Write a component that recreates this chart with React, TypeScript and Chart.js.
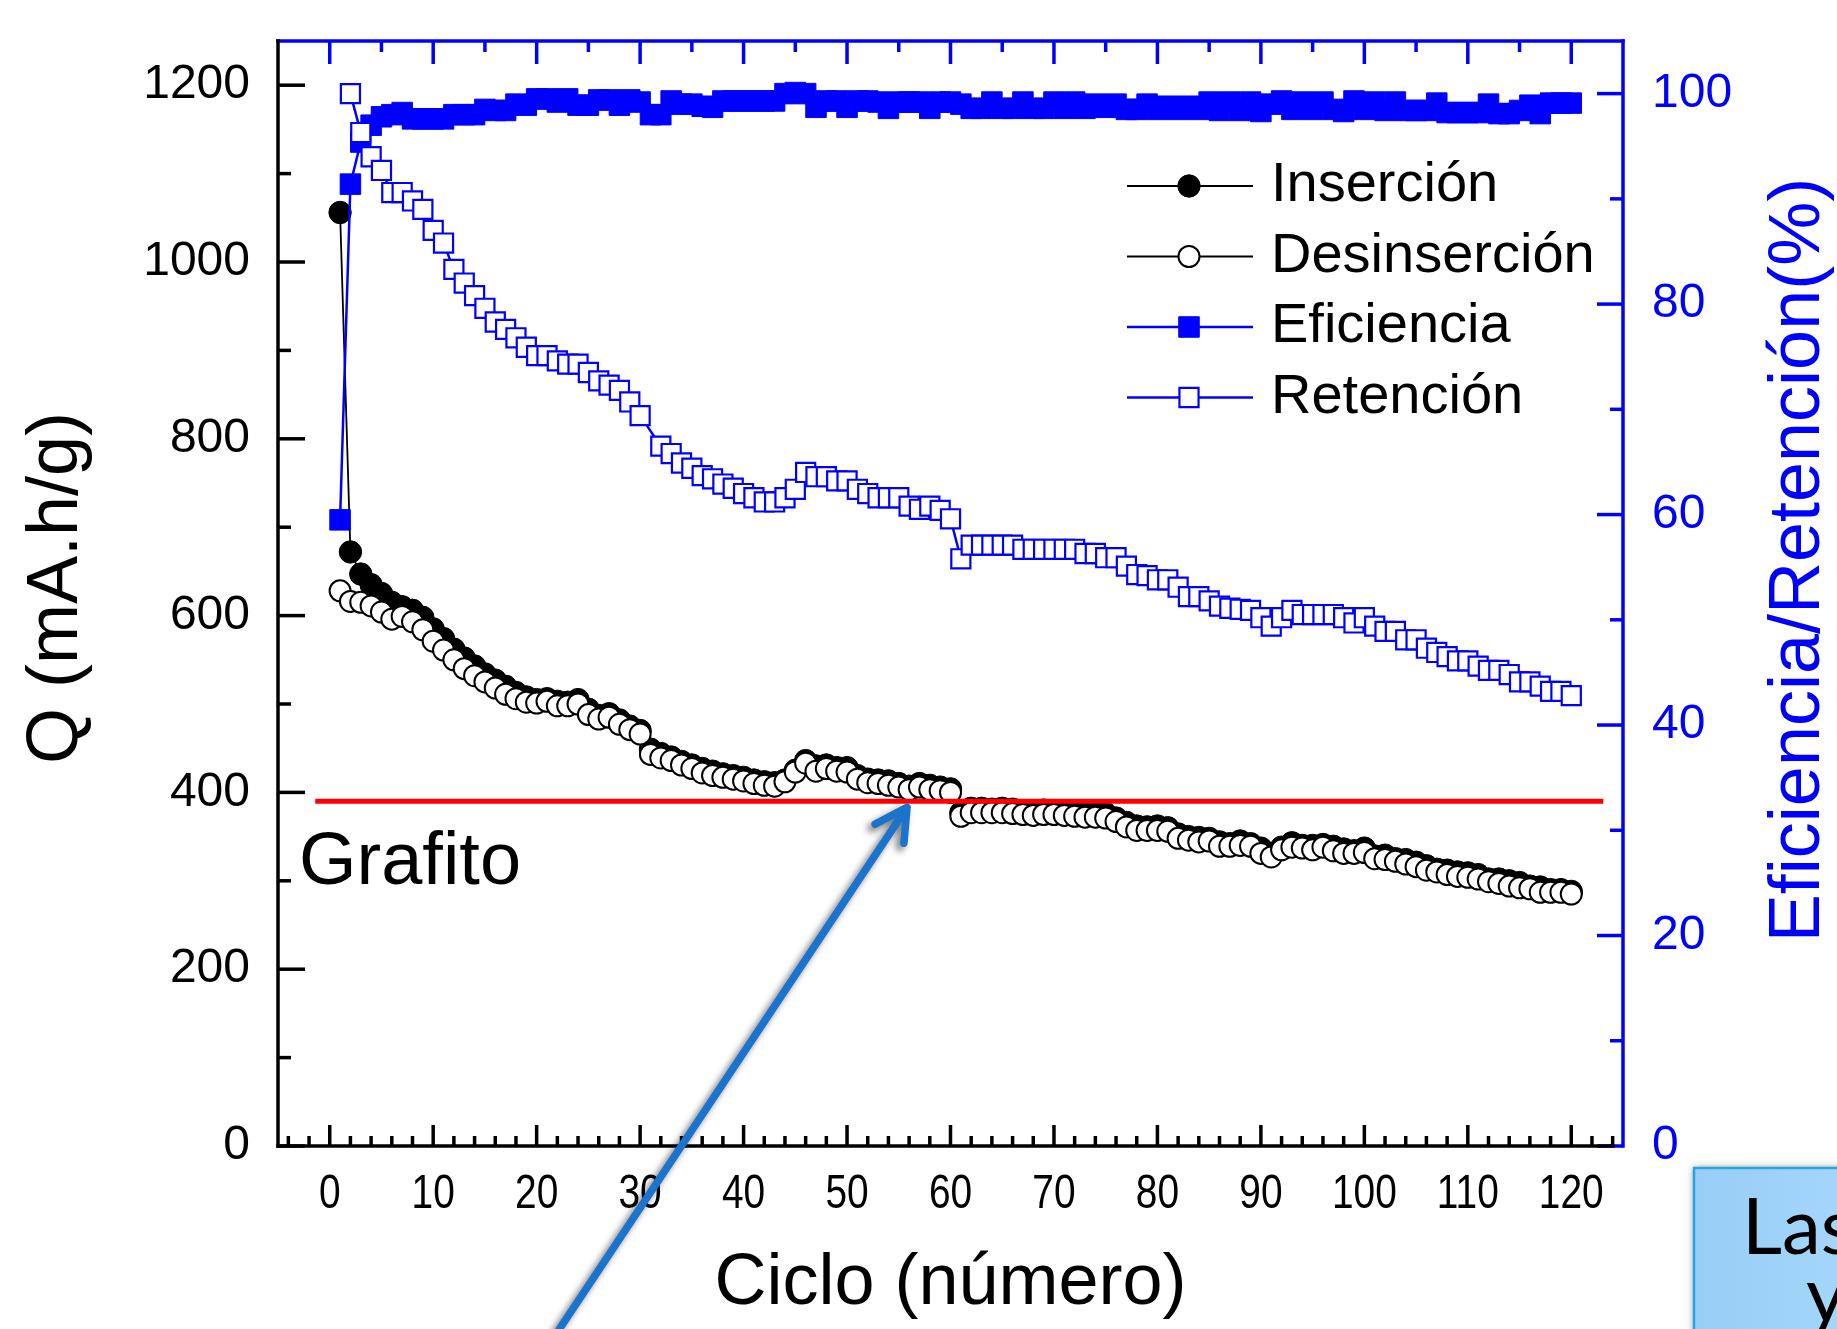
import React, { useEffect, useRef } from "react";
import { Chart, registerables } from "chart.js";

Chart.register(...registerables);

const W = 1837;
const H = 1329;

// ---------- data ----------
const cycles = Array.from({ length: 120 }, (_, i) => i + 1);

const insercion = [
  1056, 672, 647, 635, 625, 615, 610, 606, 598, 585,
  574, 562, 552, 543, 534, 527, 520, 513, 508, 505,
  506, 503, 502, 505, 494, 487, 489, 482, 475, 470,
  449, 444, 440, 435, 431, 427, 424, 421, 419, 417,
  414, 412, 411, 414, 425, 436, 430, 431, 428, 428,
  419, 415, 414, 413, 410, 407, 410, 408, 406, 404,
  377, 382, 382, 381, 382, 381, 379, 379, 380, 379,
  379, 377, 377, 376, 376, 371, 366, 362, 361, 362,
  360, 353, 350, 349, 348, 344, 342, 345, 342, 337,
  331, 338, 343, 340, 340, 341, 339, 336, 334, 337,
  328, 329, 325, 324, 321, 317, 313, 312, 310, 309,
  307, 302, 302, 300, 298, 294, 293, 290, 290, 288,
];

const desinsercion = [
  628, 616, 615, 611, 604, 596, 599, 593, 584, 571,
  561, 550, 540, 532, 525, 518, 511, 506, 502, 501,
  503, 498, 498, 500, 488, 483, 485, 477, 471, 466,
  443, 439, 436, 431, 427, 422, 419, 417, 415, 413,
  410, 408, 407, 412, 423, 433, 424, 427, 424, 423,
  415, 411, 410, 408, 406, 403, 406, 403, 402, 400,
  373, 377, 377, 377, 377, 376, 375, 374, 375, 375,
  374, 373, 372, 372, 371, 367, 361, 357, 357, 357,
  356, 348, 346, 344, 345, 339, 339, 340, 339, 331,
  327, 335, 338, 337, 335, 338, 334, 331, 331, 332,
  325, 324, 322, 319, 316, 312, 310, 307, 305, 304,
  302, 299, 297, 294, 292, 291, 287, 287, 287, 285,
];

const eficiencia = [
  59.5, 91.4, 95.4, 97.0, 97.8, 98.0, 98.2, 97.6, 97.6, 97.6,
  97.6, 98.0, 98.0, 98.0, 98.5, 98.4, 98.4, 99.0, 98.9, 99.5,
  99.5, 99.2, 99.5, 98.9, 98.9, 99.4, 99.4, 98.9, 99.4, 99.2,
  98.0, 98.0, 99.3, 99.0, 99.0, 98.8, 98.7, 99.3, 99.3, 99.3,
  99.3, 99.3, 99.3, 100.0, 100.1, 100.0, 98.7, 99.3, 99.3, 98.7,
  99.3, 99.3, 99.2, 98.6, 99.2, 99.2, 99.2, 98.6, 99.2, 99.2,
  99.0, 98.6, 98.6, 99.2, 98.6, 98.6, 99.2, 98.6, 98.6, 99.2,
  98.6, 99.2, 98.6, 99.0, 98.7, 99.0, 98.5, 98.5, 99.0, 98.5,
  98.8, 98.5, 98.8, 98.5, 99.2, 98.4, 99.2, 98.4, 99.2, 98.3,
  99.0, 99.3, 98.5, 99.2, 98.5, 99.2, 98.5, 98.3, 99.3, 98.5,
  99.2, 98.4, 99.2, 98.4, 98.4, 98.4, 99.1, 98.2, 98.2, 98.2,
  98.2, 99.0, 98.1, 98.1, 98.4, 98.9, 98.1, 99.1, 99.1, 99.1,
];

const retencion = [
  null, 100.0, 96.3, 94.0, 92.7, 90.6, 90.6, 89.8, 89.0, 87.0,
  85.8, 83.3, 82.0, 80.8, 79.6, 78.3, 77.6, 76.8, 75.9, 75.1,
  75.1, 74.6, 74.3, 74.3, 73.5, 72.7, 72.3, 71.8, 70.7, 69.4,
  null, 66.5, 65.8, 64.9, 64.4, 63.7, 63.4, 62.9, 62.5, 62.0,
  61.6, 61.2, 61.2, 61.6, 62.4, 64.0, 63.6, 63.6, 63.2, 63.2,
  62.4, 62.0, 61.6, 61.6, 61.6, 60.8, 60.5, 60.8, 60.4, 59.6,
  55.8, 57.1, 57.1, 57.1, 57.1, 57.1, 56.7, 56.7, 56.7, 56.7,
  56.7, 56.7, 56.3, 56.3, 55.9, 55.9, 55.1, 54.3, 54.2, 53.8,
  53.8, 53.1, 52.2, 52.2, 51.8, 51.3, 51.1, 51.0, 50.9, 50.2,
  49.4, 50.2, 50.9, 50.5, 50.5, 50.5, 50.5, 50.2, 49.7, 50.2,
  49.4, 48.9, 48.9, 48.1, 48.1, 47.3, 46.9, 46.5, 46.1, 46.1,
  45.6, 45.2, 45.2, 44.8, 44.1, 44.1, 43.7, 43.2, 43.2, 42.8,
];

const xTickLabels = [0, 10, 20, 30, 40, 50, 60, 70, 80, 90, 100, 110, 120];
const qTickLabels = [0, 200, 400, 600, 800, 1000, 1200];
const pctTickLabels = [0, 20, 40, 60, 80, 100];

const grafitoQ = 390;
const grafitoFrom = -1.4;
const grafitoTo = 123.1;

const legendOrder = ["Inserción", "Desinserción", "Eficiencia", "Retención"];

// annotation arrow (in data coordinates)
const arrowTail = { x: 22.2, y: -207 };
const arrowTip = { x: 55.8, y: 383 };

const FONT = "'Liberation Sans', Arial, Helvetica, sans-serif";
const BLUE = "#0000FF";

const decorPlugin = {
  id: "decor",
  afterDraw(chart: any) {
    const ctx: CanvasRenderingContext2D = chart.ctx;
    const ca = chart.chartArea;
    const xs = chart.scales.x;
    const ys = chart.scales.y;
    const y2 = chart.scales.y2;
    const line = (a: number, b: number, c: number, d: number) => {
      ctx.beginPath();
      ctx.moveTo(a, b);
      ctx.lineTo(c, d);
      ctx.stroke();
    };
    ctx.save();
    ctx.lineCap = "butt";
    ctx.lineWidth = 3.5;

    // bottom ticks (black, inward)
    ctx.strokeStyle = "#000";
    for (let v = -4; v <= 124; v += 2) {
      const p = xs.getPixelForValue(v);
      const L = v % 10 === 0 ? 21 : 10;
      line(p, ca.bottom, p, ca.bottom - L);
    }
    // left ticks
    for (let v = 0; v <= 1200; v += 100) {
      const p = ys.getPixelForValue(v);
      const L = v % 200 === 0 ? 27 : 13;
      line(ca.left, p, ca.left + L, p);
    }
    // top ticks (blue)
    ctx.strokeStyle = BLUE;
    for (let v = 0; v <= 120; v += 5) {
      const p = xs.getPixelForValue(v);
      const L = v % 10 === 0 ? 23 : 11;
      line(p, ca.top, p, ca.top + L);
    }
    // right ticks
    for (let v = 0; v <= 100; v += 10) {
      const p = y2.getPixelForValue(v);
      const L = v % 20 === 0 ? 26 : 13;
      line(ca.right, p, ca.right - L, p);
    }
    // axis lines
    ctx.lineWidth = 3.5;
    ctx.lineCap = "square";
    ctx.strokeStyle = BLUE;
    line(ca.left, ca.top, ca.right, ca.top);
    line(ca.right, ca.top, ca.right, ca.bottom);
    ctx.strokeStyle = "#000";
    line(ca.left, ca.top, ca.left, ca.bottom);
    line(ca.left, ca.bottom, ca.right - 10, ca.bottom);

    // x tick labels (condensed)
    ctx.fillStyle = "#000";
    ctx.font = `48px ${FONT}`;
    ctx.textAlign = "center";
    ctx.textBaseline = "middle";
    xs.ticks.forEach((t: any) => {
      const p = xs.getPixelForValue(t.value);
      ctx.save();
      ctx.translate(p, 1195);
      ctx.scale(0.81, 1);
      ctx.fillText(String(t.value), 0, 0);
      ctx.restore();
    });

    // axis titles
    ctx.font = `72px ${FONT}`;
    ctx.save();
    ctx.translate(57, 588);
    ctx.rotate(-Math.PI / 2);
    ctx.fillText("Q (mA.h/g)", 0, 0);
    ctx.restore();

    ctx.save();
    ctx.fillStyle = BLUE;
    ctx.translate(1799, 560);
    ctx.rotate(-Math.PI / 2);
    ctx.fillText("Eficiencia/Retención(%)", 0, 0);
    ctx.restore();

    ctx.fillText("Ciclo (número)", (ca.left + ca.right) / 2, 1284);

    // "Grafito" label
    ctx.textAlign = "left";
    ctx.textBaseline = "alphabetic";
    ctx.font = `74px ${FONT}`;
    ctx.fillText("Grafito", 299, 884);

    // legend
    const dsets = chart.data.datasets;
    legendOrder.forEach((lab, i) => {
      const ds = dsets.find((d: any) => d.label === lab);
      const yy = 186 + i * 70.5;
      ctx.strokeStyle = ds.borderColor;
      ctx.lineWidth = ds.borderWidth;
      ctx.lineCap = "butt";
      line(1127, yy, 1253, yy);
      const mx = 1189;
      ctx.fillStyle = ds.pointBackgroundColor;
      ctx.strokeStyle = ds.pointBorderColor;
      ctx.lineWidth = ds.pointBorderWidth;
      ctx.beginPath();
      if (ds.pointStyle === "rect") {
        const s = ds.pointRadius * Math.SQRT1_2;
        ctx.rect(mx - s, yy - s, 2 * s, 2 * s);
      } else {
        ctx.arc(mx, yy, ds.pointRadius, 0, Math.PI * 2);
      }
      ctx.fill();
      ctx.stroke();
      ctx.fillStyle = "#000";
      ctx.font = `56px ${FONT}`;
      ctx.textAlign = "left";
      ctx.textBaseline = "middle";
      ctx.fillText(lab, 1271, yy);
    });

    // bottom-right note box
    ctx.save();
    ctx.shadowColor = "rgba(0,0,0,0.45)";
    ctx.shadowBlur = 8;
    const grd = ctx.createLinearGradient(1694, 0, 1900, 0);
    grd.addColorStop(0, "#98CDF6");
    grd.addColorStop(1, "#A8DAFB");
    ctx.fillStyle = grd;
    ctx.fillRect(1694, 1168, 220, 220);
    ctx.restore();
    ctx.strokeStyle = "#22A6E8";
    ctx.lineWidth = 2.5;
    ctx.strokeRect(1694, 1168, 220, 220);
    ctx.fillStyle = "#000";
    ctx.font = `78px Lato, 'Open Sans', sans-serif`;
    ctx.textAlign = "left";
    ctx.textBaseline = "alphabetic";
    ctx.fillText("Las", 1742, 1254);
    ctx.fillText("y", 1806, 1322);

    // arrow
    const tx = xs.getPixelForValue(arrowTip.x);
    const ty = ys.getPixelForValue(arrowTip.y);
    const sx = xs.getPixelForValue(arrowTail.x);
    const sy = ys.getPixelForValue(arrowTail.y);
    const ang = Math.atan2(sy - ty, sx - tx);
    const hl = 36;
    const ha = 0.5;
    ctx.save();
    ctx.shadowColor = "rgba(0,0,0,0.55)";
    ctx.shadowBlur = 7;
    ctx.shadowOffsetX = -4;
    ctx.shadowOffsetY = 4;
    ctx.strokeStyle = "#1A74CC";
    ctx.lineWidth = 7.5;
    ctx.lineCap = "round";
    ctx.lineJoin = "round";
    ctx.beginPath();
    ctx.moveTo(sx, sy);
    ctx.lineTo(tx, ty);
    ctx.moveTo(tx + hl * Math.cos(ang + ha), ty + hl * Math.sin(ang + ha));
    ctx.lineTo(tx, ty);
    ctx.lineTo(tx + hl * Math.cos(ang - ha), ty + hl * Math.sin(ang - ha));
    ctx.stroke();
    ctx.restore();

    ctx.restore();
  },
};

export default function App() {
  const ref = useRef<HTMLCanvasElement | null>(null);

  useEffect(() => {
    const canvas = ref.current;
    if (!canvas) return;
    const pts = (arr: (number | null)[]) => cycles.map((c, i) => ({ x: c, y: arr[i] }));
    const noPadV = (s: any) => {
      s.paddingTop = 0;
      s.paddingBottom = 0;
    };

    const chart = new Chart(canvas, {
      type: "line",
      data: {
        datasets: [
          {
            label: "Grafito",
            data: [
              { x: grafitoFrom, y: grafitoQ },
              { x: grafitoTo, y: grafitoQ },
            ],
            yAxisID: "y",
            borderColor: "#FF0000",
            borderWidth: 4.8,
            pointRadius: 0,
            order: 0,
          },
          {
            label: "Retención",
            data: pts(retencion),
            yAxisID: "y2",
            borderColor: BLUE,
            borderWidth: 2.5,
            pointStyle: "rect",
            pointRadius: 13.5,
            pointBackgroundColor: "#FFFFFF",
            pointBorderColor: BLUE,
            pointBorderWidth: 2.2,
            spanGaps: true,
            order: 1,
          },
          {
            label: "Eficiencia",
            data: pts(eficiencia),
            yAxisID: "y2",
            borderColor: BLUE,
            borderWidth: 2.5,
            pointStyle: "rect",
            pointRadius: 14.5,
            pointBackgroundColor: BLUE,
            pointBorderColor: BLUE,
            pointBorderWidth: 1,
            order: 2,
          },
          {
            label: "Desinserción",
            data: pts(desinsercion),
            yAxisID: "y",
            borderColor: "#000000",
            borderWidth: 1.8,
            pointStyle: "circle",
            pointRadius: 10.5,
            pointBackgroundColor: "#FFFFFF",
            pointBorderColor: "#000000",
            pointBorderWidth: 2,
            order: 3,
          },
          {
            label: "Inserción",
            data: pts(insercion),
            yAxisID: "y",
            borderColor: "#000000",
            borderWidth: 1.8,
            pointStyle: "circle",
            pointRadius: 11.2,
            pointBackgroundColor: "#000000",
            pointBorderColor: "#000000",
            pointBorderWidth: 1,
            order: 4,
          },
        ],
      },
      options: {
        animation: false,
        responsive: false,
        maintainAspectRatio: false,
        devicePixelRatio: 1,
        layout: { padding: { top: 41, left: 0, right: 0, bottom: 0 }, autoPadding: false },
        plugins: {
          legend: { display: false },
          tooltip: { enabled: false },
        },
        elements: { line: { tension: 0 } },
        scales: {
          x: {
            type: "linear",
            position: "bottom",
            min: -5,
            max: 125,
            afterBuildTicks: (s: any) => {
              s.ticks = xTickLabels.map((v) => ({ value: v }));
            },
            afterFit: (s: any) => {
              s.height = H - 1146;
              s.paddingLeft = 0;
              s.paddingRight = 0;
            },
            grid: { display: false, drawTicks: false },
            border: { display: false },
            ticks: { display: false, autoSkip: false, maxRotation: 0 },
          },
          y: {
            type: "linear",
            position: "left",
            min: 0,
            max: 1250,
            afterBuildTicks: (s: any) => {
              s.ticks = qTickLabels.map((v) => ({ value: v }));
            },
            afterFit: (s: any) => {
              s.width = 278;
              noPadV(s);
            },
            grid: { display: false, drawTicks: false },
            border: { display: false },
            ticks: {
              padding: 28,
              color: "#000",
              font: { family: FONT, size: 48 },
              callback: (v: any) => String(v),
            },
          },
          y2: {
            type: "linear",
            position: "right",
            min: 0,
            max: 105,
            afterBuildTicks: (s: any) => {
              s.ticks = pctTickLabels.map((v) => ({ value: v }));
            },
            afterFit: (s: any) => {
              s.width = W - 1623;
              noPadV(s);
            },
            grid: { display: false, drawTicks: false },
            border: { display: false },
            ticks: {
              padding: 29,
              color: BLUE,
              font: { family: FONT, size: 48 },
              callback: (v: any) => String(v),
            },
          },
        },
      },
      plugins: [decorPlugin],
    } as any);

    return () => chart.destroy();
  }, []);

  return (
    <div style={{ position: "absolute", left: 0, top: 0, width: W, height: H, background: "#fff", overflow: "hidden" }}>
      <canvas ref={ref} width={W} height={H} style={{ display: "block", width: W, height: H }} />
    </div>
  );
}
